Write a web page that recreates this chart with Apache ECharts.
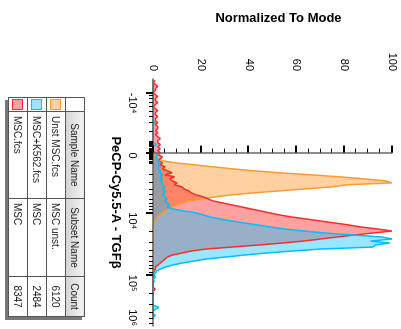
<!DOCTYPE html>
<html>
<head>
<meta charset="utf-8">
<script src="https://cdn.jsdelivr.net/npm/echarts@6/dist/echarts.min.js"></script>
<style>
  html, body { margin: 0; padding: 0; width: 401px; height: 329px; overflow: hidden; background: #fff; }
  /* FlowJo layout drawn upright, then turned a quarter clockwise */
  #wrap { position: absolute; left: 0; top: 0; width: 329px; height: 401px; transform-origin: 0 0; transform: translate(401px, 0) rotate(90deg); }
  #chart { position: absolute; left: 0; top: 0; width: 329px; height: 401px; }
  #tbl { position: absolute; left: 97px; top: 316px; border-collapse: collapse; table-layout: fixed; font: 10px 'Liberation Sans', Arial, sans-serif; color: #222; box-shadow: 3px 3px 0 #777; background: #fff; }
  #tbl td, #tbl th { border: 1px solid #555; height: 18px; padding: 0 4px; white-space: nowrap; overflow: hidden; }
  #tbl th { font-weight: normal; text-align: center; background: linear-gradient(#f2f2f2, #d4d4d4); }
  #tbl th.blank { background: #fff; }
  #tbl td.swc { padding: 0; }
  #tbl td.num { text-align: center; }
  .sw { display: block; width: 9px; height: 9px; border: 1px solid; margin: 0 auto; }
</style>
</head>
<body>
<div id="wrap">
  <div id="chart"></div>
  <table id="tbl"></table>
</div>
<script>
// histogram bins on the biex display scale (decades)
const BIN_START = -1.15;
const BIN_STEP = 0.032;

// table rows, in FlowJo's order
const sampleNames = ['Unst MSC.fcs', 'MSC+K562.fcs', 'MSC.fcs'];
const subsetNames = ['MSC unst.', 'MSC', 'MSC'];
const eventCounts = [6120, 2484, 8347];
const lineColors = ['#ff9a2e', '#00bfff', '#ff2a2a'];
const fillColors = ['#ff9933', '#00c0ff', '#ff0000'];
const fillAlpha = [0.46, 0.4, 0.37];

// normalized to mode, one value per bin
const unstMSC = [
  0, 0, 0, 0, 0, 0, 0, 0, 0, 0, 0, 0, 0, 0, 0, 0, 0, 0, 0, 0,
  0, 0, 0, 0, 0, 0, 0, 0, 0, 0, 0, 0, 0, 0, 0, 0, 0, 0.5, 1, 2,
  4, 9, 17, 25, 33, 42, 53, 66, 78, 88, 97, 100, 81, 75, 64, 53, 42, 33, 26, 20,
  15, 13, 10, 8, 7, 5, 4, 3, 2, 1.5, 1, 0.5, 0, 0, 0, 0, 0, 0, 0, 0,
  0, 0, 0, 0, 0, 0, 0, 0, 0, 0, 0, 0, 0, 0, 0, 0, 0, 0, 0, 0,
  0, 0, 0, 0, 0, 0, 0, 0, 0, 0, 0, 0, 0, 0, 0, 0, 0, 0, 0, 0
];
const mscK562 = [
  0, 0, 0, 0, 0, 0, 0, 0, 0, 0, 0, 0, 0, 0, 0, 0, 0, 0, 0, 0,
  0, 1, 0, 0, 0, 0, 0, 0, 0, 0, 0, 0, 1.5, 0, 0, 0, 1, 2, 1, 2,
  2, 3, 2, 3, 2, 3, 3, 4, 3, 4, 3, 4, 4, 5, 4, 5, 5, 4, 5, 6,
  5, 6, 7, 6, 8, 13, 18, 21, 24, 28, 33, 38, 44, 49, 55, 63, 72, 84, 96, 100,
  91, 99, 93, 92, 70, 58, 47, 38, 30, 22, 17, 12, 8, 5, 3, 1.5, 1, 0.5, 1, 0,
  0.5, 0, 0, 0, 0, 0, 0, 0, 0, 0, 0, 0, 0, 2.5, 1, 0, 0, 1, 0, 0
];
const mscOnly = [
  1, 0, 1, 2, 1, 1, 0, 1, 2, 1, 1, 2, 1, 0, 1, 2, 1, 1, 2, 1,
  1, 2, 1, 2, 2, 1, 2, 1, 2, 3, 2, 2, 3, 2, 3, 2, 3, 2, 4, 3,
  2, 4, 3, 5, 4, 6, 8, 5, 9, 7, 8, 10, 9, 12, 13, 15, 16, 18, 21, 23,
  25, 29, 33, 37, 41, 45, 49, 53, 58, 64, 70, 76, 82, 87, 94, 100, 92, 84, 77, 70,
  63, 54, 44, 33, 22, 16, 12, 8, 6, 5, 4, 3, 2, 1, 1, 0.5, 0, 0, 0, 0,
  0, 0, 0, 0, 1, 0, 0, 0, 0, 0, 0, 0, 0, 0, 0, 0, 0, 0, 0, 0
];
// draw order: unstained first, K562 co-culture on top
const seriesData = [unstMSC, mscOnly, mscK562];
const seriesRow = [0, 2, 1];

// axis ticks (raw fluorescence)
const majorTicks = [-1e4, 0, 1e4, 1e5];
const majorLabels = ['-10⁴', '0', '10⁴', '10⁵'];
const topLabel = '10⁶';
const minorTicks = [
  -9000, -8000, -7000, -6000, -5000, -4000, -3000, -2000, -1000,
  -900, -800, -700, -600, -500, -400, -300, -200, -100,
  100, 200, 300, 400, 500, 600, 700, 800, 900,
  2000, 3000, 4000, 5000, 6000, 7000, 8000, 9000,
  2e4, 3e4, 4e4, 5e4, 6e4, 7e4, 8e4, 9e4,
  2e5, 3e5, 4e5, 5e5, 6e5
];

const biex = (v) => Math.asinh(v / 2258) / Math.LN10;
const X_MIN = -1.173;
const X_MAX = 2.764;

const majorPos = majorTicks.map(biex);
const minorPos = minorTicks.map(biex).filter((u) => u > X_MIN && u < X_MAX);

const fontFamily = "'Liberation Sans', Arial, sans-serif";
const chart = echarts.init(document.getElementById('chart'), null, { renderer: 'canvas' });

const option = {
  animation: false,
  grid: { left: 79, right: 0, top: 9, bottom: 153 },
  xAxis: [
    {
      type: 'value',
      position: 'bottom',
      z: 5,
      min: X_MIN,
      max: X_MAX,
      name: 'PeCP-Cy5.5-A - TGFβ',
      nameLocation: 'middle',
      nameGap: 31,
      nameTextStyle: { fontFamily, fontSize: 13, fontWeight: 'bold', color: '#000' },
      axisLine: { show: true, onZero: false, lineStyle: { color: '#666', width: 1.5 } },
      axisTick: { show: true, customValues: majorPos, length: 7, lineStyle: { color: '#000', width: 2 } },
      axisLabel: {
        show: true,
        customValues: majorPos.concat([X_MAX]),
        align: 'left',
        alignMaxLabel: 'right',
        margin: 15,
        fontFamily,
        fontSize: 11,
        color: '#000',
        formatter: (val) => {
          if (Math.abs(val - X_MAX) < 1e-6) return topLabel;
          let k = 0;
          majorPos.forEach((p, i) => { if (Math.abs(p - val) < Math.abs(majorPos[k] - val)) k = i; });
          return majorLabels[k];
        }
      },
      splitLine: { show: false }
    },
    {
      type: 'value',
      position: 'bottom',
      z: 5,
      min: X_MIN,
      max: X_MAX,
      axisLine: { show: false },
      axisTick: { show: true, customValues: minorPos, length: 4, lineStyle: { color: '#000', width: 1 } },
      axisLabel: { show: false },
      splitLine: { show: false }
    }
  ],
  yAxis: {
    type: 'value',
    z: 5,
    min: 0,
    max: 100,
    interval: 20,
    name: 'Normalized To Mode',
    nameLocation: 'middle',
    nameGap: 54,
    nameTextStyle: { fontFamily, fontSize: 13, fontWeight: 'bold', color: '#000', padding: [0, 0, 0, 12] },
    axisLine: { show: true, lineStyle: { color: '#666', width: 1.5 } },
    axisTick: { show: true, length: 7, lineStyle: { color: '#000', width: 2 } },
    minorTick: { show: true, splitNumber: 4, length: 4, lineStyle: { color: '#000', width: 1 } },
    axisLabel: { margin: 8, fontFamily, fontSize: 11, color: '#000' },
    splitLine: { show: false },
    minorSplitLine: { show: false }
  },
  series: seriesData.map((vals, s) => {
    const r = seriesRow[s];
    return {
      name: sampleNames[r],
      type: 'line',
      xAxisIndex: 0,
      z: 2,
      symbol: 'none',
      clip: true,
      data: vals.map((c, i) => [BIN_START + i * BIN_STEP, c]),
      lineStyle: { color: lineColors[r], width: 1.5 },
      areaStyle: { color: fillColors[r], opacity: fillAlpha[r] }
    };
  })
};

chart.setOption(option);

// sample table under the plot
const tbl = document.getElementById('tbl');
let html = '<colgroup><col style="width:14px"><col style="width:87px"><col style="width:78px"><col style="width:40px"></colgroup>';
html += '<tr><th class="blank"></th><th>Sample Name</th><th>Subset Name</th><th>Count</th></tr>';
sampleNames.forEach((name, i) => {
  html += '<tr><td class="swc"><span class="sw" style="border-color:' + lineColors[i] + ';background:' +
    echarts.color.modifyAlpha(fillColors[i], fillAlpha[i]) + '"></span></td>' +
    '<td>' + name + '</td><td>' + subsetNames[i] + '</td><td class="num">' + eventCounts[i] + '</td></tr>';
});
tbl.innerHTML = html;
</script>
</body>
</html>
